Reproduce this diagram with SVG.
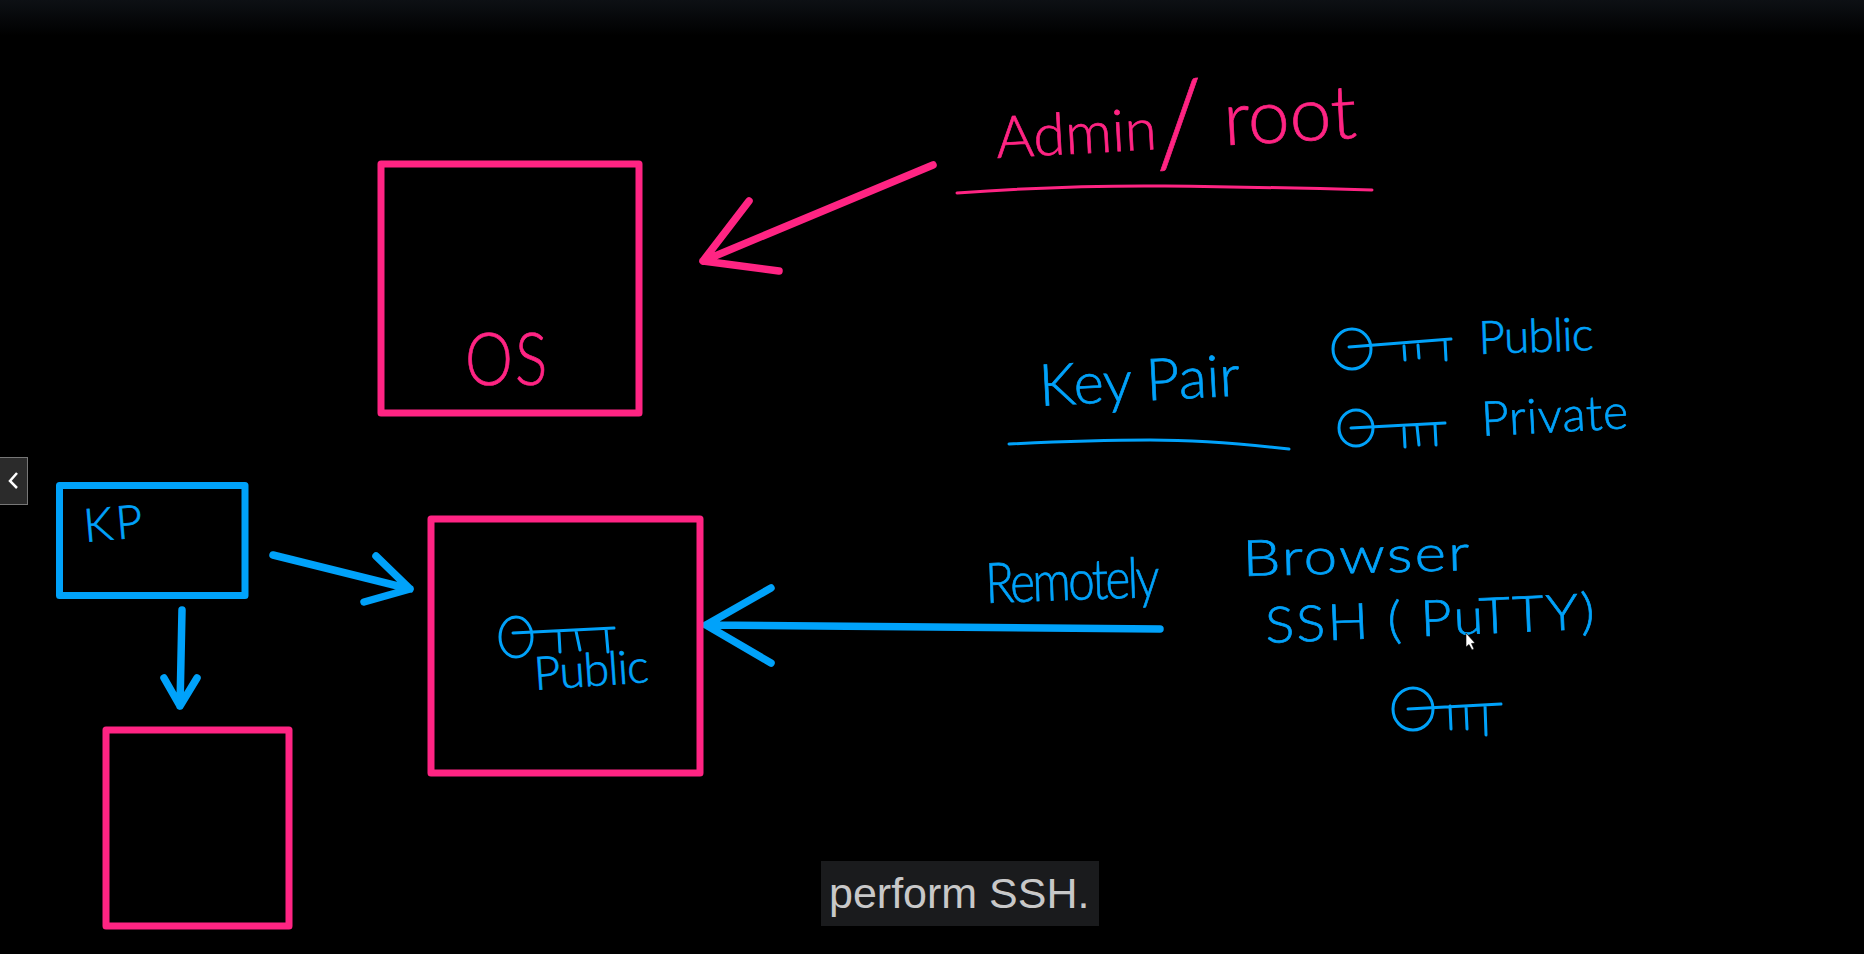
<svg xmlns="http://www.w3.org/2000/svg" width="1864" height="954" viewBox="0 0 1864 954">
<style>
.box{fill:none;stroke-width:7;stroke-linejoin:round}
.pk{stroke:#ff2483}.bl{stroke:#00a2fa}
.ln{fill:none;stroke-linecap:round;stroke-linejoin:round}
.thick{stroke-width:7.500}
.thin{stroke-width:3}
.hand{font-family:"Lato","Liberation Sans",sans-serif;font-weight:300;stroke-width:.7}
.tp{fill:#ff2483;stroke:#ff2483}.tb{fill:#00a2fa;stroke:#00a2fa}
</style>
<defs>
<linearGradient id="top" x1="0" y1="0" x2="0" y2="1"><stop offset="0" stop-color="#0d1014"/><stop offset="1" stop-color="#000"/></linearGradient>
</defs>
<rect width="1864" height="954" fill="#000"/>
<rect width="1864" height="36" fill="url(#top)"/>

<g id="connectors">
<path class="ln thick pk" d="M933 165L703 261M749 201L703 261L779 271"/>
<path class="ln thick bl" d="M273 555L410 589M376 556L410 589L364 602"/>
<path class="ln thick bl" d="M182 610L180 706M164 678L180 706L197 678"/>
<path class="ln thick bl" d="M1160 629L706 625M771 588L706 625L771 663"/>
</g>

<g id="node-os">
<rect class="box pk" x="381" y="164" width="258" height="249"/>
<text class="hand tp" x="0" y="0" font-size="72" textLength="98" lengthAdjust="spacing" transform="translate(465 385) scale(.84 1)">OS</text>
</g>
<g id="node-admin-root">
<text class="hand tp" font-size="58" x="0" y="0" transform="translate(997 158) rotate(-3.2)"><tspan>Admin</tspan><tspan x="158" dy="17" font-size="118">/</tspan><tspan x="228" dy="-17" font-size="75">root</tspan></text>
<path class="ln thin pk" d="M957 193Q1070 185 1165 186T1372 190"/>
</g>
<g id="node-key-pair">
<text class="hand tb" font-size="58" x="0" y="0" textLength="201" lengthAdjust="spacing" transform="translate(1040 406) rotate(-3)">Key Pair</text>
<path class="ln thin bl" d="M1009 444Q1090 440 1150 440T1289 449"/>
</g>
<g id="node-public-key">
<ellipse class="ln thin bl" cx="1352" cy="349" rx="19" ry="20"/>
<path class="ln thin bl" d="M1349 347L1451 339M1404 346L1405 360M1418 345L1419 358M1445 340L1446 360"/>
<text class="hand tb" font-size="46" x="0" y="0" textLength="115" lengthAdjust="spacing" transform="translate(1479 354) rotate(-2)">Public</text>
</g>
<g id="node-private-key">
<ellipse class="ln thin bl" cx="1356" cy="428" rx="17" ry="18"/>
<path class="ln thin bl" d="M1351 428L1445 423M1404 428L1405 447M1417 426L1419 445M1435 425L1436 445"/>
<text class="hand tb" font-size="48" x="0" y="0" textLength="147" lengthAdjust="spacing" transform="translate(1482 436) rotate(-3)">Private</text>
</g>
<g id="node-kp">
<rect class="box bl" x="59.500" y="485.500" width="185.500" height="110"/>
<text class="hand tb" font-size="46" x="0" y="0" textLength="59" lengthAdjust="spacing" transform="translate(85 542) rotate(-5)">KP</text>
</g>
<g id="node-instance">
<rect class="box pk" x="431" y="519" width="269" height="254"/>
<ellipse class="ln thin bl" cx="516" cy="637" rx="16" ry="20"/>
<path class="ln thin bl" d="M513 633L614 628M559 633L560 652M576 631L580 650M606 629L608 652"/>
<text class="hand tb" font-size="46" x="0" y="0" textLength="115" lengthAdjust="spacing" transform="translate(535 690) rotate(-4)">Public</text>
</g>
<g id="node-bottom-box">
<rect class="box pk" x="106" y="730" width="183" height="196"/>
</g>
<g id="node-remotely">
<text class="hand tb" font-size="56" x="0" y="0" textLength="205" lengthAdjust="spacing" transform="translate(986 603) rotate(-2) scale(.85 1)">Remotely</text>
</g>
<g id="node-browser">
<text class="hand tb" font-size="50" x="0" y="0" textLength="189" lengthAdjust="spacing" transform="translate(1243 576) rotate(-1.500) scale(1.2 1)">Browser</text>
</g>
<g id="node-ssh">
<text class="hand tb" font-size="50" x="0" y="0" textLength="305" lengthAdjust="spacing" transform="translate(1266 643) rotate(-2.500) scale(1.08 1)">SSH ( PuTTY)</text>
</g>
<g id="node-key-3">
<ellipse class="ln thin bl" cx="1413" cy="709" rx="20" ry="21"/>
<path class="ln thin bl" d="M1408 709L1501 704M1450 706L1451 729M1466 706L1467 729M1485 705L1486 735"/>
</g>
<g id="cursor">
<path d="M1466 633L1466 647L1469 644.500L1472 650L1474 649L1471.500 643.500L1475 643Z" fill="#fff" stroke="#000" stroke-width="0.600"/>
</g>
<g id="sidebar-toggle">
<rect x="-1" y="457.500" width="28.500" height="47" fill="#2b2b2b" stroke="#777"/>
<path d="M17 473L10 481L17 488" fill="none" stroke="#fff" stroke-width="2.500"/>
</g>
<g id="caption">
<rect x="821" y="861" width="278" height="65" fill="#1a1b1d"/>
<text x="829" y="908" font-family="'Liberation Sans',Arial,sans-serif" font-size="43" fill="#c8c8c8">perform SSH.</text>
</g>
</svg>
